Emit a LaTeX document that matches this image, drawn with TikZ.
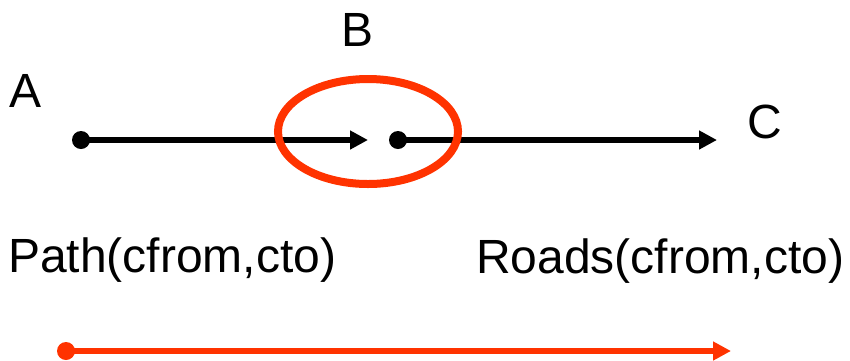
\documentclass[tikz,border=0pt]{standalone}
\usepackage{fontspec}
\setmainfont{Liberation Sans}
\usetikzlibrary{arrows.meta,shapes.geometric}
\definecolor{hot}{RGB}{255,51,0}
\tikzset{
  lbl/.style={inner sep=0pt, anchor=base west, font=\fontsize{48}{58}\selectfont},
  dot/.style={circle, fill, inner sep=0pt, minimum size=18pt},
  link/.style={line width=6pt, -{Triangle[length=18pt,width=18pt]}},
  ring/.style={draw=hot, line width=8pt, ellipse, inner sep=0pt,
    minimum width=180pt, minimum height=105pt},
}
\begin{document}
\begin{tikzpicture}[x=1pt,y=-1pt]
  \useasboundingbox (0,0) rectangle (850,360);
  % labels
  \node[lbl] (la) at (9,107) {A};
  \node[lbl] (lb) at (341.5,46) {B};
  \node[lbl] (lc) at (747.5,138) {C};
  \node[lbl] (lpath) at (8,272) {Path(cfrom,cto)};
  \node[lbl] (lroads) at (476,273) {Roads(cfrom,cto)};
  % path and road segments
  \node[dot] (a) at (81,140) {};
  \coordinate (bin) at (368,140);
  \node[dot] (b) at (398,140) {};
  \coordinate (c) at (717,140);
  \draw[link] (a.center) -- (bin);
  \draw[link] (b.center) -- (c);
  % junction highlight
  \node[ring] (junction) at (368,131.5) {};
  % combined route
  \node[dot, fill=hot] (s) at (66,351) {};
  \coordinate (e) at (731,351);
  \draw[link, hot] (s.center) -- (e);
\end{tikzpicture}
\end{document}
